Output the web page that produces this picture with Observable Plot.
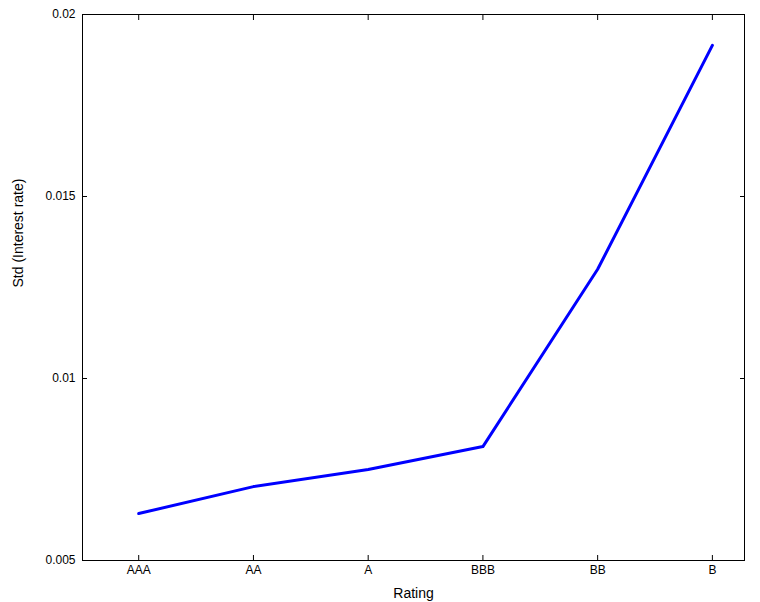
<!DOCTYPE html>
<html>
<head>
<script src="https://cdn.jsdelivr.net/npm/d3@7"></script>
<script src="https://cdn.jsdelivr.net/npm/@observablehq/plot@0.6"></script>
<style>
  body { margin: 0; background: #fff; }
  svg { font-family: "Liberation Sans", Arial, sans-serif; }
</style>
</head>
<body>
<div id="chart"></div>
<script>
// ratings and their std of interest rate
const ratings = ["AAA", "AA", "A", "BBB", "BB", "B"]
const stdRate = [0.00629, 0.00703, 0.0075, 0.00813, 0.0130, 0.01915]
const yTicks = [0.005, 0.01, 0.015, 0.02]

const data = ratings.map((r, i) => ({i, rating: r, std: stdRate[i]}))
const idx = ratings.map((r, i) => i)

const chart = Plot.plot({
  width: 760,
  height: 602,
  marginLeft: 82,
  marginRight: 16,
  marginTop: 14,
  marginBottom: 42,
  style: {fontSize: "12px", color: "#000"},
  x: {domain: [-0.49, 5.28]},
  y: {domain: [0.005, 0.02]},
  marks: [
    Plot.frame({stroke: "#000"}),
    Plot.axisX({ticks: idx, tickFormat: i => ratings[i], tickSize: -5, tickPadding: 10, fontSize: 12, label: null}),
    Plot.axisX({anchor: "top", ticks: idx, tickFormat: () => "", tickSize: -5, label: null}),
    Plot.axisY({ticks: yTicks, tickFormat: d => String(+d.toFixed(3)), tickSize: -5, tickPadding: 12, fontSize: 12, label: null}),
    Plot.axisY({anchor: "right", ticks: yTicks, tickFormat: () => "", tickSize: -5, label: null}),
    Plot.text(["Rating"], {frameAnchor: "bottom", dy: 37, fontSize: 14}),
    Plot.text(["Std (Interest rate)"], {frameAnchor: "left", dx: -64, rotate: -90, fontSize: 14}),
    Plot.line(data, {x: "i", y: "std", stroke: "#0000ff", strokeWidth: 3})
  ]
})
document.getElementById("chart").append(chart)
</script>
</body>
</html>
